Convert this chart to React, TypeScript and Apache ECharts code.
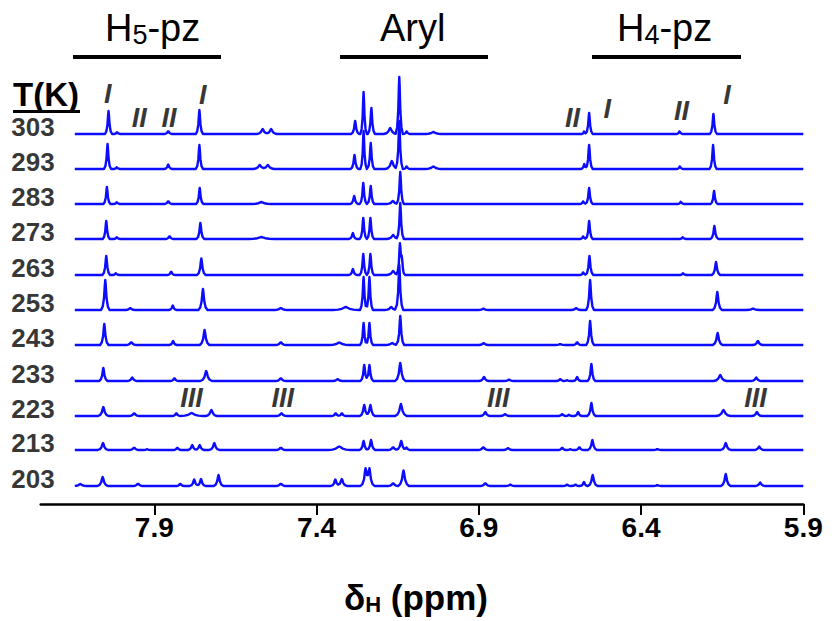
import React, { useEffect, useRef } from "react";
import * as echarts from "echarts";

// Temperatures (K), top to bottom
const temperatures = ["303", "293", "283", "273", "263", "253", "243", "233", "223", "213", "203"];
// Vertical stacking offset of each spectrum (intensity units)
const offsets = [370, 335, 300, 265, 229, 194, 159, 123, 88, 54, 18];

// Peak lists per spectrum: [shift (ppm), height, half-base width (ppm)]
const peaks303 = [
  [8.041, 23, 0.011], [8.014, 2, 0.01], [7.857, 3, 0.012], [7.761, 24, 0.011],
  [7.566, 5, 0.018], [7.540, 5, 0.018], [7.281, 13, 0.012], [7.255, 42, 0.01],
  [7.231, 26, 0.011], [7.173, 6, 0.02], [7.145, 57, 0.011], [7.122, 3, 0.01],
  [7.04, 2, 0.025], [6.575, 3, 0.008], [6.560, 21, 0.011], [6.281, 3, 0.01], [6.177, 20, 0.011],
];
const peaks293 = [
  [8.044, 25, 0.011], [8.015, 2, 0.01], [7.857, 4.5, 0.012], [7.761, 24, 0.011],
  [7.575, 4, 0.02], [7.55, 4, 0.02], [7.283, 14, 0.012], [7.255, 38, 0.01],
  [7.233, 26, 0.011], [7.168, 8, 0.02], [7.145, 48, 0.011], [7.122, 3, 0.01],
  [7.04, 2.5, 0.025], [6.575, 5, 0.01], [6.560, 24, 0.011], [6.280, 3, 0.01], [6.178, 24, 0.011],
];
const peaks283 = [
  [8.046, 17, 0.011], [8.015, 2, 0.01], [7.857, 3, 0.012], [7.760, 16, 0.011],
  [7.57, 2, 0.03], [7.284, 8, 0.012], [7.256, 21, 0.011], [7.233, 18, 0.011],
  [7.165, 3, 0.02], [7.142, 32, 0.011], [6.578, 3, 0.01], [6.560, 16, 0.011],
  [6.277, 2.5, 0.01], [6.175, 13, 0.011],
];
const peaks273 = [
  [8.048, 18, 0.011], [8.015, 2, 0.01], [7.853, 3, 0.012], [7.758, 16, 0.012],
  [7.57, 2, 0.04], [7.288, 6, 0.012], [7.256, 21, 0.011], [7.234, 21, 0.011],
  [7.164, 4, 0.02], [7.142, 36, 0.011], [6.578, 3, 0.01], [6.560, 18, 0.011],
  [6.271, 2, 0.01], [6.174, 13, 0.012],
];
const peaks263 = [
  [8.048, 19, 0.012], [8.018, 2, 0.01], [7.848, 3.5, 0.012], [7.755, 16.5, 0.013],
  [7.288, 6, 0.012], [7.256, 21, 0.011], [7.234, 21, 0.011], [7.164, 4, 0.02],
  [7.143, 30, 0.011], [7.137, 14, 0.01], [6.578, 3, 0.01], [6.559, 19, 0.012],
  [6.270, 2, 0.01], [6.169, 13, 0.013],
];
const peaks253 = [
  [8.051, 30, 0.013], [7.974, 2, 0.015], [7.843, 4.5, 0.012], [7.750, 21, 0.014],
  [7.51, 2, 0.02], [7.31, 3, 0.04], [7.255, 33, 0.011], [7.237, 33, 0.011],
  [7.170, 3, 0.02], [7.145, 45, 0.012], [6.886, 1.5, 0.015], [6.60, 2, 0.015],
  [6.557, 30, 0.012], [6.165, 18, 0.014], [6.055, 1.5, 0.02],
];
const peaks243 = [
  [8.054, 21, 0.013], [7.971, 3, 0.015], [7.842, 4, 0.012], [7.745, 15, 0.015],
  [7.510, 3, 0.015], [7.33, 2.5, 0.03], [7.255, 22, 0.011], [7.237, 22, 0.011],
  [7.167, 2, 0.02], [7.142, 29, 0.012], [6.885, 2, 0.015], [6.649, 1, 0.015],
  [6.597, 3, 0.012], [6.557, 24, 0.012], [6.164, 12, 0.015], [6.040, 4, 0.015],
];
const peaks233 = [
  [8.057, 13, 0.013], [7.968, 3.5, 0.015], [7.838, 3, 0.012], [7.740, 10, 0.018],
  [7.510, 3, 0.015], [7.335, 2, 0.015], [7.253, 16, 0.012], [7.237, 16, 0.012],
  [7.142, 18, 0.016], [6.884, 4, 0.015], [6.807, 1.5, 0.015], [6.649, 2, 0.012],
  [6.628, 1, 0.01], [6.597, 4, 0.012], [6.553, 17, 0.012], [6.156, 6, 0.02], [6.045, 3.5, 0.015],
];
const peaks223 = [
  [8.057, 9, 0.016], [7.962, 3, 0.015], [7.832, 3, 0.012], [7.785, 3, 0.035],
  [7.724, 6, 0.018], [7.508, 3, 0.015], [7.341, 3, 0.012], [7.322, 3, 0.012],
  [7.253, 11, 0.014], [7.234, 11, 0.014], [7.140, 12, 0.018], [6.880, 4, 0.015],
  [6.819, 2, 0.015], [6.643, 2, 0.012], [6.622, 1.5, 0.01], [6.594, 4, 0.012],
  [6.553, 13, 0.013], [6.146, 6, 0.022], [6.043, 4, 0.015],
];
const peaks213 = [
  [8.058, 7, 0.016], [7.962, 2.5, 0.015], [7.922, 1, 0.01], [7.829, 2.5, 0.012],
  [7.783, 5, 0.014], [7.760, 5, 0.014], [7.715, 7, 0.016], [7.510, 2.5, 0.015],
  [7.33, 3.5, 0.035], [7.255, 9, 0.013], [7.232, 10, 0.013], [7.164, 3, 0.015],
  [7.139, 9, 0.015], [7.122, 3, 0.01], [6.886, 3, 0.015], [6.81, 2, 0.015],
  [6.643, 2.5, 0.012], [6.618, 1, 0.01], [6.590, 3, 0.012], [6.550, 10, 0.014],
  [6.350, 1, 0.012], [6.139, 7, 0.016], [6.036, 3.5, 0.015],
];
const peaks203 = [
  [8.128, 2, 0.02], [8.059, 9, 0.016], [7.950, 2.5, 0.015], [7.820, 2.5, 0.012],
  [7.777, 6.5, 0.014], [7.756, 7, 0.014], [7.702, 11, 0.015], [7.510, 2.5, 0.015],
  [7.342, 6.5, 0.014], [7.322, 7, 0.016], [7.249, 16.5, 0.016], [7.237, 16.5, 0.016],
  [7.164, 3, 0.015], [7.132, 15.5, 0.017], [6.880, 3, 0.015], [6.803, 1.5, 0.015],
  [6.628, 1.5, 0.012], [6.602, 1.5, 0.012], [6.576, 4, 0.012], [6.549, 11, 0.015],
  [6.350, 1, 0.012], [6.139, 12, 0.015], [6.033, 3.5, 0.015],
];
const spectra = [peaks303, peaks293, peaks283, peaks273, peaks263, peaks253, peaks243, peaks233, peaks223, peaks213, peaks203];

// Spectral window recorded and axis
const recordedRange = [8.145, 5.9];
const axisRange = [5.9, 8.25];
const tickValues = [7.9, 7.4, 6.9, 6.4, 5.9];

// Signal-assignment labels: text, shift (ppm), level (intensity units)
const markText = ["I", "II", "II", "I", "II", "I", "II", "I", "III", "III", "III", "III"];
const markPpm = [8.043, 7.946, 7.855, 7.751, 6.611, 6.504, 6.275, 6.135, 7.785, 7.504, 6.840, 6.047];
const markLevel = [410, 386, 386, 409, 386, 395, 393, 409, 106, 106, 106, 106];

const BLUE = "#0c0cff";
// line-shape vertices: [fraction of half-width, fraction of height]
const PROFILE = [[0, 1], [0.1, 0.85], [0.3, 0.4], [0.6, 0.12], [1, 0]];

function profileAt(t: number) {
  if (t >= 1) return 0;
  for (let k = 1; k < PROFILE.length; k++) {
    const [t0, v0] = PROFILE[k - 1];
    const [t1, v1] = PROFILE[k];
    if (t <= t1) return v0 + ((t - t0) / (t1 - t0)) * (v1 - v0);
  }
  return 0;
}

function buildSpectrum(peaks: number[][], offset: number) {
  const [hi, lo] = recordedRange;
  const xs = new Set<number>([hi, lo]);
  peaks.forEach(([c, , w]) => {
    PROFILE.forEach(([t]) => {
      xs.add(+(c - t * w).toFixed(5));
      xs.add(+(c + t * w).toFixed(5));
    });
  });
  const sorted = Array.from(xs).filter((x) => x <= hi && x >= lo).sort((a, b) => b - a);
  return sorted.map((x) => [
    x,
    offset + peaks.reduce((s, [c, h, w]) => s + h * profileAt(Math.abs(x - c) / w), 0),
  ]);
}

const LABEL_PPM = 8.3405;
const SANS = "'Liberation Sans', Arial, sans-serif";
const NARROW = "'Liberation Sans Narrow', 'Liberation Sans', Arial, sans-serif";

export default function App() {
  const ref = useRef<HTMLDivElement>(null);
  useEffect(() => {
    const chart = echarts.init(ref.current!, undefined, { renderer: "svg" });
    const lineSeries = spectra.map((p, i) => ({
      type: "line",
      name: temperatures[i] + " K",
      data: buildSpectrum(p, offsets[i]),
      showSymbol: false,
      symbol: "none",
      silent: true,
      lineStyle: { color: BLUE, width: 2.4, join: "round" },
      z: 2,
    }));
    const option: any = {
      animation: false,
      backgroundColor: "#ffffff",
      grid: { left: 40.7, right: 28.7, top: 0, bottom: 117 },
      xAxis: {
        type: "value",
        min: axisRange[0],
        max: axisRange[1],
        inverse: true,
        splitLine: { show: false },
        axisLine: { show: true, lineStyle: { color: "#000", width: 2.5 } },
        axisTick: { show: true, customValues: tickValues, length: 11, lineStyle: { color: "#000", width: 2 } },
        axisLabel: {
          customValues: tickValues,
          formatter: (v: number) => v.toFixed(1),
          color: "#000",
          fontWeight: "bold",
          fontSize: 28,
          fontFamily: NARROW,
          margin: 9,
        },
      },
      yAxis: { type: "value", min: 0, max: 504, show: false },
      series: [
        ...lineSeries,
        {
          type: "scatter",
          clip: false,
          silent: true,
          symbolSize: 0,
          data: temperatures.map((t, i) => ({ value: [LABEL_PPM, offsets[i] + 7], name: t })),
          label: {
            show: true,
            position: [0, 0],
            align: "left",
            verticalAlign: "middle",
            formatter: "{b}",
            color: "#000",
            fontWeight: "bold",
            fontSize: 26,
            fontFamily: SANS,
          },
        },
        {
          type: "scatter",
          clip: false,
          silent: true,
          symbolSize: 0,
          data: markText.map((t, i) => ({ value: [markPpm[i], markLevel[i]], name: t })),
          label: {
            show: true,
            position: [0, 0],
            align: "center",
            verticalAlign: "middle",
            formatter: "{b}",
            color: "#000",
            fontWeight: "bold",
            fontStyle: "italic",
            fontSize: 27,
            fontFamily: SANS,
          },
        },
      ],
      graphic: [
        {
          type: "text",
          left: 105,
          top: 9,
          style: {
            text: "{m|H}{s|5}{m|-pz}",
            rich: {
              m: { fontSize: 38, lineHeight: 40, fontFamily: SANS, fill: "#000" },
              s: { fontSize: 27, lineHeight: 14, verticalAlign: "bottom", fontFamily: SANS, fill: "#000" },
            },
          },
        },
        {
          type: "text",
          left: 380,
          top: 9,
          style: {
            text: "{m|Aryl}",
            rich: { m: { fontSize: 38, lineHeight: 40, fontFamily: SANS, fill: "#000" } },
          },
        },
        {
          type: "text",
          left: 617,
          top: 9,
          style: {
            text: "{m|H}{s|4}{m|-pz}",
            rich: {
              m: { fontSize: 38, lineHeight: 40, fontFamily: SANS, fill: "#000" },
              s: { fontSize: 27, lineHeight: 14, verticalAlign: "bottom", fontFamily: SANS, fill: "#000" },
            },
          },
        },
        { type: "line", shape: { x1: 73, y1: 57, x2: 221, y2: 57 }, style: { stroke: "#000", lineWidth: 4 } },
        { type: "line", shape: { x1: 340, y1: 57, x2: 488, y2: 57 }, style: { stroke: "#000", lineWidth: 4 } },
        { type: "line", shape: { x1: 592, y1: 57, x2: 741, y2: 57 }, style: { stroke: "#000", lineWidth: 4 } },
        {
          type: "text",
          left: 13,
          top: 78,
          style: {
            text: "T(K)",
            fontSize: 33,
            lineHeight: 32,
            fontWeight: "bold",
            fontFamily: SANS,
            fill: "#000",
          },
        },
        { type: "line", shape: { x1: 13, y1: 111.5, x2: 80, y2: 111.5 }, style: { stroke: "#000", lineWidth: 3 } },
        {
          type: "text",
          left: "center",
          top: 580,
          style: {
            text: "{m|δ}{s|H}{m| (ppm)}",
            rich: {
              m: { fontSize: 35, lineHeight: 36, fontWeight: "bold", fontFamily: NARROW, fill: "#000" },
              s: { fontSize: 22, lineHeight: 14, verticalAlign: "bottom", fontWeight: "bold", fontFamily: NARROW, fill: "#000" },
            },
          },
        },
      ],
    };
    chart.setOption(option);
    return () => chart.dispose();
  }, []);
  return (
    <div
      ref={ref}
      style={{ position: "fixed", left: 0, top: 0, width: 832, height: 621, background: "#fff" }}
    />
  );
}
